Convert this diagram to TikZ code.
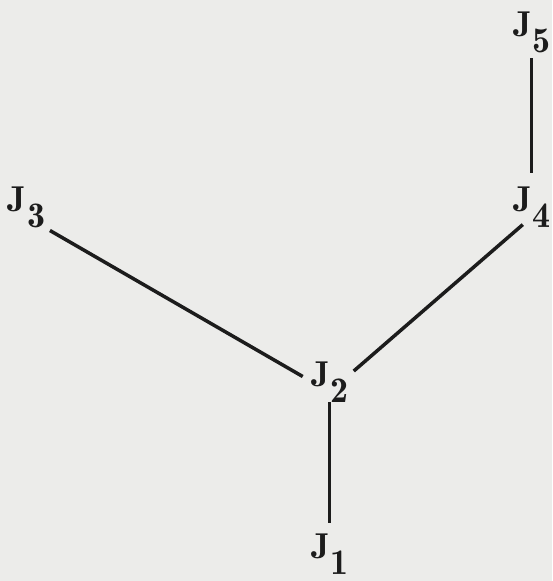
\documentclass[tikz,border=0pt]{standalone}
\usepackage{fontspec}
\setmainfont{Latin Modern Roman}
\newfontfamily\jfont{lmromandemi10-regular.otf}
\definecolor{paper}{RGB}{236,236,234}
\definecolor{ink}{RGB}{28,28,28}
% J with a lowered index
\newcommand{\jnode}[1]{J\kern0.5pt\raisebox{-16pt}{#1}}
\begin{document}
\begin{tikzpicture}[x=1pt,y=-1pt,
  jlab/.style={inner sep=2pt,outer sep=0pt,text=ink,font=\fontsize{36}{40}\jfont,anchor=base west},
  edge/.style={line width=3.5pt,ink}]
\fill[paper] (0,0) rectangle (552,581);
\useasboundingbox (0,0) rectangle (552,581);
\node[jlab] (j5) at (511,36) {\jnode{5}};
\node[jlab] (j4) at (511,211) {\jnode{4}};
\node[jlab] (j3) at (6,211) {\jnode{3}};
\node[jlab] (j2) at (309,386) {\jnode{2}};
\node[jlab] (j1) at (309,558) {\jnode{1}};
\draw[edge,shorten <=16pt,shorten >=44pt] ([yshift=-6pt]j5.base)--([yshift=-6pt]j4.base);
\draw[edge,shorten <=27pt,shorten >=31pt] ([yshift=-6pt]j3.base)--([yshift=-6pt]j2.base);
\draw[edge,shorten <=32pt,shorten >=11.6pt] ([yshift=-6pt]j2.base)--([yshift=-6pt]j4.base);
\draw[edge,shorten <=10pt,shorten >=41pt] ([yshift=-6pt]j2.base)--([yshift=-6pt]j1.base);
\end{tikzpicture}
\end{document}
